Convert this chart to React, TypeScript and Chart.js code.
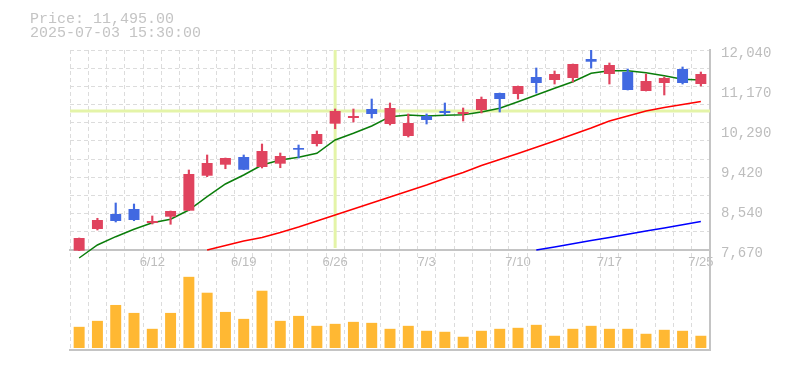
import React, { useEffect, useRef } from 'react';
import { Chart, registerables } from 'chart.js';

Chart.register(...registerables);

// ---- data ----
const DATES = ['6/6','6/9','6/10','6/11','6/12','6/13','6/16','6/17','6/18','6/19','6/20','6/23','6/24','6/25','6/26','6/27','6/30','7/1','7/2','7/3','7/4','7/7','7/8','7/9','7/10','7/11','7/14','7/15','7/16','7/17','7/18','7/22','7/23','7/24','7/25'];
const OPEN = [7655, 8129, 8457, 8566, 8260, 8398, 8529, 9293, 9534, 9702, 9484, 9556, 9899, 9986, 10430, 10554, 10751, 10423, 10161, 10598, 10707, 10642, 10729, 11100, 11079, 11450, 11385, 11428, 11843, 11516, 11559, 11144, 11319, 11625, 11297];
const HIGH = [7932, 8363, 8697, 8675, 8413, 8522, 9418, 9746, 9680, 9746, 9986, 9789, 9964, 10270, 10751, 10751, 10969, 10882, 10642, 10642, 10882, 10773, 11013, 11100, 11253, 11647, 11581, 11734, 12040, 11756, 11625, 11516, 11450, 11669, 11559];
const LOW = [7655, 8107, 8282, 8310, 8238, 8232, 8529, 9272, 9446, 9424, 9462, 9468, 9680, 9942, 10320, 10467, 10554, 10401, 10139, 10423, 10620, 10489, 10664, 10685, 10969, 11100, 11297, 11341, 11647, 11297, 11166, 11144, 11057, 11297, 11253];
const CLOSE = [7932, 8325, 8304, 8325, 8304, 8522, 9331, 9571, 9680, 9424, 9833, 9724, 9862, 10205, 10707, 10598, 10642, 10773, 10445, 10511, 10664, 10685, 10969, 10969, 11253, 11319, 11516, 11734, 11784, 11712, 11166, 11363, 11428, 11319, 11516];
const MA_SHORT = [7495, 7779, 7961, 8122, 8267, 8341, 8544, 8835, 9112, 9309, 9527, 9637, 9696, 9783, 10074, 10220, 10379, 10583, 10620, 10598, 10613, 10626, 10685, 10766, 10910, 11057, 11203, 11347, 11531, 11588, 11588, 11544, 11478, 11400, 11385];
const MA_MID = [null, null, null, null, null, null, null, 7670, 7768, 7867, 7943, 8052, 8173, 8304, 8435, 8566, 8697, 8828, 8959, 9090, 9232, 9363, 9516, 9647, 9779, 9914, 10052, 10194, 10336, 10489, 10598, 10707, 10784, 10849, 10915];
const MA_LONG = [null, null, null, null, null, null, null, null, null, null, null, null, null, null, null, null, null, null, null, null, null, null, null, null, null, 7670, 7738, 7808, 7878, 7945, 8015, 8085, 8153, 8223, 8291];
const VOLUME = [640, 820, 1300, 1060, 580, 1060, 2150, 1670, 1090, 880, 1730, 820, 970, 670, 730, 790, 760, 580, 670, 520, 490, 340, 520, 580, 610, 700, 370, 580, 670, 580, 580, 430, 550, 520, 370];
const PRICE_TICKS = [7670, 8540, 9420, 10290, 11170, 12040];
const PRICE_GRID_DIVISIONS = 11;
const LABEL_EVERY = 5;
const CROSS_INDEX = 14;
const CROSS_PRICE = 10707;
const INFO_PRICE = 'Price: 11,495.00';
const INFO_TIME = '2025-07-03 15:30:00';
const VOL_AXIS_MIN = -60;
const VOL_AXIS_MAX = 9000;

const UP = '#E0435E';
const DOWN = '#4169E1';
const VOL_COLOR = '#FFB833';
const GRID = '#dcdcdc';
const AXIS = '#c4c4c4';
const TEXT = '#bdbdbd';

const PRICE_TOP = PRICE_TICKS[PRICE_TICKS.length - 1];
const PRICE_BOTTOM = PRICE_TICKS[0];
const PRICE_MIN = PRICE_BOTTOM - (PRICE_TOP - PRICE_BOTTOM) / 2;

const crosshairPlugin = {
  id: 'crosshair',
  beforeDatasetsDraw(chart: any) {
    const { ctx, chartArea, scales } = chart;
    const x = scales.x.getPixelForValue(CROSS_INDEX);
    const y = scales.y.getPixelForValue(CROSS_PRICE);
    const yb = scales.y.getPixelForValue(PRICE_BOTTOM);
    ctx.save();
    ctx.strokeStyle = '#E4F4A8';
    ctx.lineWidth = 3;
    ctx.beginPath();
    ctx.moveTo(x, chartArea.top);
    ctx.lineTo(x, yb - 2);
    ctx.moveTo(chartArea.left, y);
    ctx.lineTo(chartArea.right, y);
    ctx.stroke();
    ctx.restore();
  },
};

const infoPlugin = {
  id: 'info',
  afterDraw(chart: any) {
    const { ctx } = chart;
    ctx.save();
    ctx.font = '15px "Liberation Mono"';
    ctx.fillStyle = '#c4c4c4';
    ctx.textBaseline = 'alphabetic';
    ctx.textAlign = 'left';
    ctx.fillText(INFO_PRICE, 30, 23);
    ctx.fillText(INFO_TIME, 30, 37);
    ctx.restore();
  },
};

export default function App() {
  const ref = useRef<HTMLCanvasElement | null>(null);

  useEffect(() => {
    if (!ref.current) return;
    const candleColors = OPEN.map((o, i) => (CLOSE[i] >= o ? UP : DOWN));
    const gridStep = (PRICE_TOP - PRICE_BOTTOM) / PRICE_GRID_DIVISIONS;
    const chart = new Chart(ref.current, {
      type: 'bar',
      data: {
        labels: DATES,
        datasets: [
          {
            type: 'bar',
            label: 'body',
            data: OPEN.map((o, i) => [o, CLOSE[i]]) as any,
            backgroundColor: candleColors,
            borderWidth: 0,
            barPercentage: 0.6,
            categoryPercentage: 1,
            grouped: false,
            order: 0,
            yAxisID: 'y',
          },
          {
            type: 'bar',
            label: 'wick',
            data: LOW.map((l, i) => [l, HIGH[i]]) as any,
            backgroundColor: candleColors,
            borderWidth: 0,
            barThickness: 1.5,
            grouped: false,
            order: 1,
            yAxisID: 'y',
          },
          {
            type: 'line',
            label: 'MA short',
            data: MA_SHORT,
            borderColor: '#0a7d0a',
            borderWidth: 1.5,
            pointRadius: 0,
            tension: 0,
            clip: false,
            order: 2,
            yAxisID: 'y',
          },
          {
            type: 'line',
            label: 'MA mid',
            data: MA_MID,
            borderColor: '#ff0000',
            borderWidth: 1.5,
            pointRadius: 0,
            tension: 0,
            order: 3,
            yAxisID: 'y',
          },
          {
            type: 'line',
            label: 'MA long',
            data: MA_LONG,
            borderColor: '#0000ff',
            borderWidth: 1.5,
            pointRadius: 0,
            tension: 0,
            order: 4,
            yAxisID: 'y',
          },
          {
            type: 'bar',
            label: 'volume',
            data: VOLUME,
            backgroundColor: VOL_COLOR,
            borderWidth: 0,
            barPercentage: 0.6,
            categoryPercentage: 1,
            grouped: false,
            order: 5,
            yAxisID: 'yVol',
          },
        ] as any,
      },
      options: {
        responsive: false,
        animation: false,
        events: [],
        layout: { padding: { left: 70, top: 50, right: 0, bottom: 0 } },
        plugins: { legend: { display: false }, tooltip: { enabled: false } },
        scales: {
          x: {
            type: 'category',
            position: { y: PRICE_BOTTOM } as any,
            offset: true,
            grid: { display: true, offset: true, color: GRID, lineWidth: 1, drawTicks: false },
            border: { display: true, color: AXIS, width: 2, dash: [4, 3] },
            ticks: {
              autoSkip: false,
              maxRotation: 0,
              padding: 5,
              color: TEXT,
              font: { family: 'Liberation Sans', size: 13 },
              callback: (_v: any, i: number) => (i % LABEL_EVERY === LABEL_EVERY - 1 ? DATES[i] : ''),
            },
          },
          x2: {
            type: 'category',
            position: 'bottom',
            offset: true,
            grid: { display: false, drawTicks: false },
            border: { display: true, color: AXIS, width: 2 },
            ticks: { display: false },
            afterFit: (s: any) => { s.height = 20; },
          },
          y: {
            type: 'linear',
            position: 'right',
            min: PRICE_MIN,
            max: PRICE_TOP,
            grid: { display: false, drawTicks: false },
            border: { display: true, color: AXIS, width: 2 },
            afterBuildTicks: (s: any) => { s.ticks = PRICE_TICKS.map((v) => ({ value: v })); },
            afterFit: (s: any) => { s.width = 75; },
            ticks: {
              padding: 11,
              labelOffset: 3,
              color: TEXT,
              font: { family: 'Liberation Mono', size: 14 },
              callback: (v: any) => Number(v).toLocaleString('en-US'),
            },
          },
          yGrid: {
            type: 'linear',
            position: 'left',
            min: PRICE_MIN,
            max: PRICE_TOP,
            grid: { display: true, color: GRID, lineWidth: 1, drawTicks: false },
            border: { display: false, dash: [4, 3] },
            ticks: { display: false },
            afterBuildTicks: (s: any) => {
              const t = [];
              for (let k = 0; k <= PRICE_GRID_DIVISIONS; k++) t.push({ value: PRICE_TOP - k * gridStep });
              s.ticks = t;
            },
            afterFit: (s: any) => { s.width = 0; },
          },
          yVol: {
            type: 'linear',
            display: false,
            min: VOL_AXIS_MIN,
            max: VOL_AXIS_MAX,
          },
        } as any,
      },
      plugins: [crosshairPlugin, infoPlugin],
    });
    return () => chart.destroy();
  }, []);

  return (
    <div style={{ position: 'absolute', left: 0, top: 0, width: 785, height: 370, background: '#fff' }}>
      <canvas ref={ref} width={785} height={370} style={{ display: 'block' }} />
    </div>
  );
}
